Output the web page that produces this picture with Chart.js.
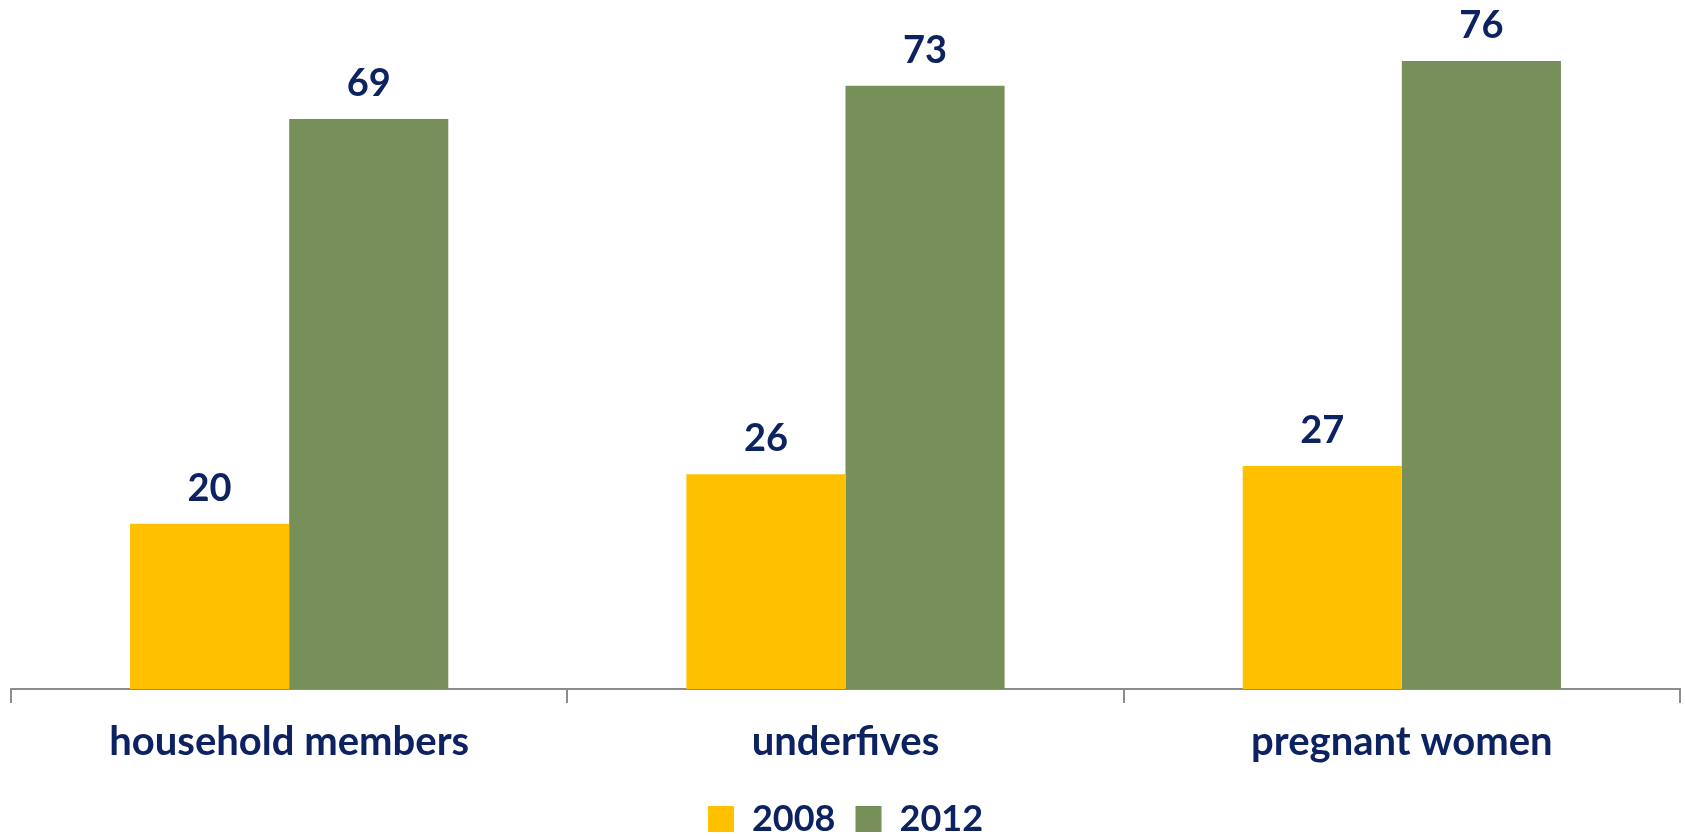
<!DOCTYPE html>
<html>
<head>
<meta charset="utf-8">
<style>
  body { margin: 0; background: #ffffff; }
  #wrap { width: 1685px; height: 836px; }
</style>
<script src="https://cdn.jsdelivr.net/npm/chart.js@4.4.0/dist/chart.umd.min.js"></script>
</head>
<body>
<div id="wrap"><canvas id="chart"></canvas></div>
<script>
// chart values
const categories = ["household members", "underfives", "pregnant women"];
const values2008 = [20, 26, 27];
const values2012 = [69, 73, 76];
const seriesNames = ["2008", "2012"];

const NAVY = "#0d2261";
const FONT = "Lato, 'Open Sans', sans-serif";

// value labels above each bar
const barLabels = {
  id: "barLabels",
  afterDatasetsDraw(chart) {
    const ctx = chart.ctx;
    ctx.save();
    ctx.font = "bold 38px " + FONT;
    ctx.fillStyle = NAVY;
    ctx.textAlign = "center";
    ctx.textBaseline = "middle";
    chart.data.datasets.forEach((ds, i) => {
      chart.getDatasetMeta(i).data.forEach((bar, j) => {
        ctx.fillText(ds.data[j], bar.x, bar.y - 35);
      });
    });
    ctx.restore();
  }
};

new Chart(document.getElementById("chart"), {
  type: "bar",
  data: {
    labels: categories,
    datasets: [
      { label: seriesNames[0], data: values2008, backgroundColor: "#ffc000" },
      { label: seriesNames[1], data: values2012, backgroundColor: "#778f58" }
    ]
  },
  options: {
    responsive: true,
    maintainAspectRatio: false,
    animation: false,
    layout: { padding: { top: 28, left: 11, right: 5, bottom: -11 } },
    datasets: { bar: { barPercentage: 1, categoryPercentage: 0.572 } },
    plugins: {
      legend: {
        position: "bottom",
        labels: {
          boxWidth: 26,
          boxHeight: 26,
          padding: 20,
          color: NAVY,
          font: { family: FONT, size: 36, weight: "bold" }
        }
      },
      tooltip: { enabled: false }
    },
    scales: {
      y: { display: false, min: 0, max: 80 },
      x: {
        grid: {
          offset: true,
          drawOnChartArea: false,
          drawTicks: true,
          tickLength: 14,
          color: "#8c8c8c",
          lineWidth: 2
        },
        border: { display: true, color: "#8c8c8c", width: 2 },
        ticks: {
          padding: 17,
          color: NAVY,
          font: { family: FONT, size: 40, weight: "bold", lineHeight: 1.1 }
        }
      }
    }
  },
  plugins: [barLabels]
});
</script>
</body>
</html>
